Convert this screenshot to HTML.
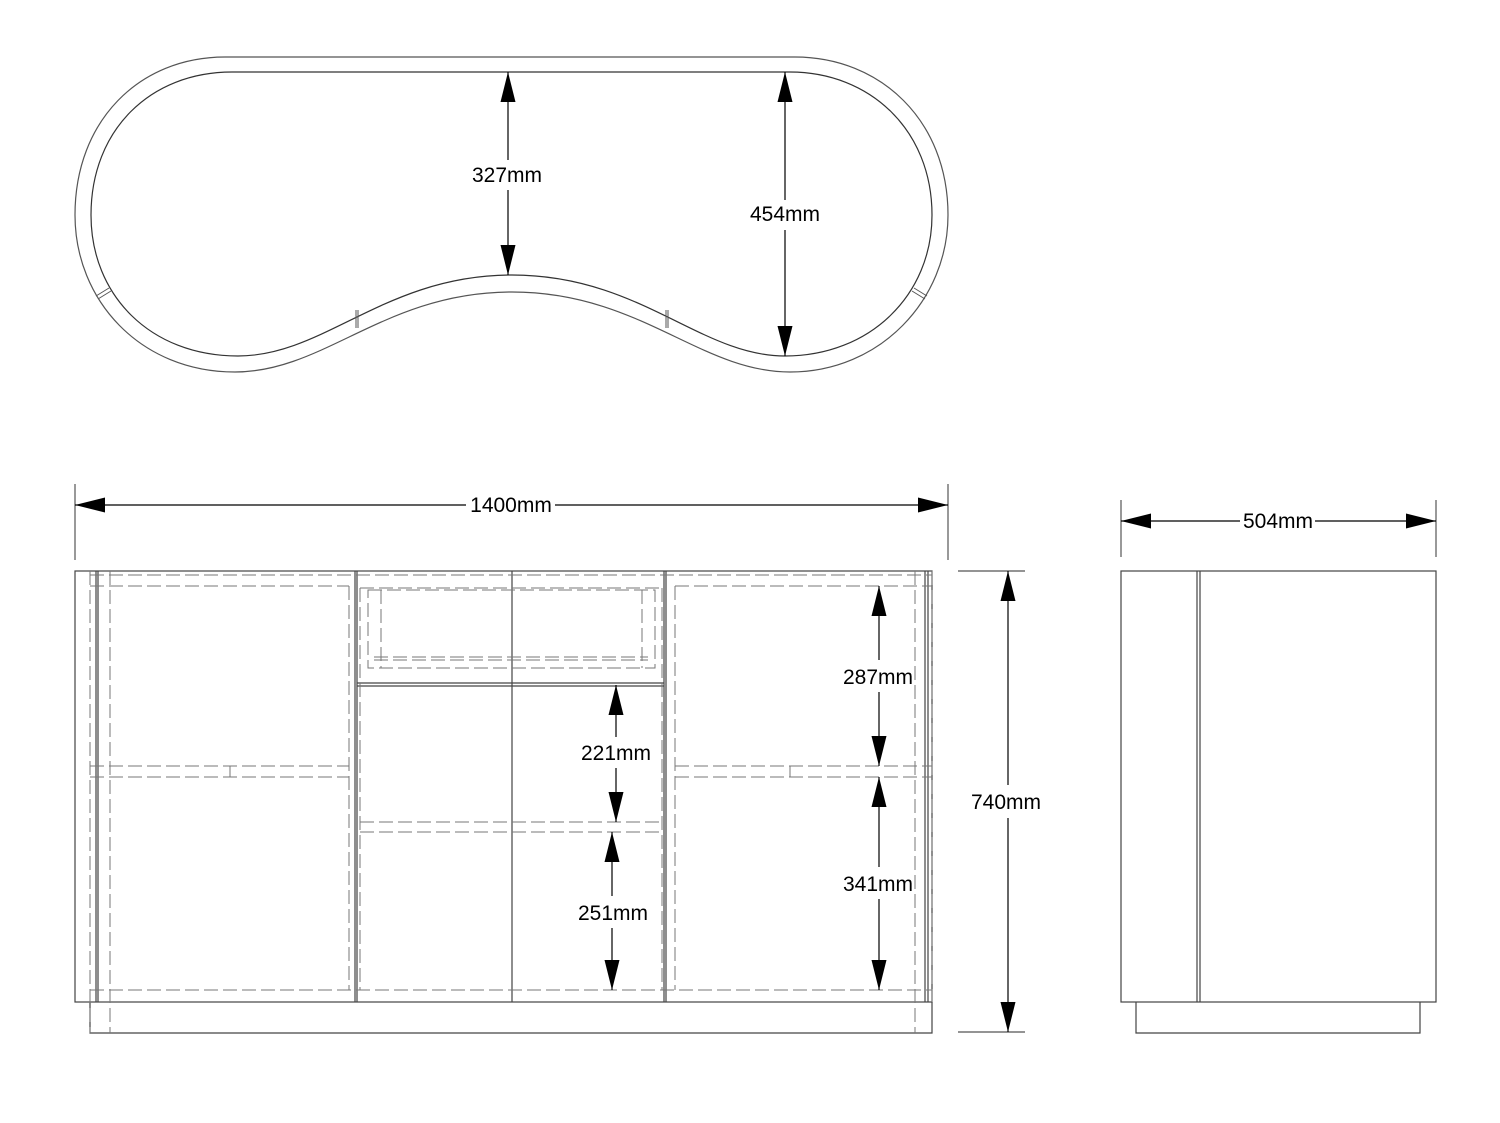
<!DOCTYPE html>
<html><head><meta charset="utf-8"><style>
html,body{margin:0;padding:0;background:#fff}
svg{display:block}
text{font-family:"Liberation Sans",sans-serif;font-size:21px;fill:#000}
</style></head><body>
<svg width="1500" height="1123" viewBox="0 0 1500 1123" xmlns="http://www.w3.org/2000/svg">
<defs>
<marker id="b" viewBox="0 0 20 10" refX="20" refY="5" markerWidth="30" markerHeight="15" markerUnits="userSpaceOnUse" orient="auto-start-reverse"><path d="M0,0 L20,5 L0,10 Z" fill="#000"/></marker>
</defs>
<g fill="none" stroke="#555" stroke-width="1.2">
<path d="M225 57 L795 57 C880 57 948 120 948 215 C948 300 880 372 790 372 C700 372 640 292 512 292 C385 292 325 372 235 372 C140 372 75 300 75 215 C75 120 140 57 225 57 Z"/>
<path d="M232 72 L790 72 C870 72 932 130 932 215 C932 295 870 356 785 356 C700 356 640 275 512 275 C385 275 325 356 238 356 C150 356 91 295 91 215 C91 130 150 72 232 72 Z" stroke="#333"/>
<path d="M96 296 L109 288 M98 299 L111 291 M356 310 L356 328 M358 310 L358 328 M666 310 L666 328 M668 310 L668 328 M914 288 L927 296 M912 291 L925 299" stroke-width="1"/>
</g>
<g stroke="#000" stroke-width="1.2" fill="none">
<line x1="508" y1="72" x2="508" y2="160" marker-start="url(#b)"/>
<line x1="508" y1="190" x2="508" y2="275" marker-end="url(#b)"/>
<line x1="785" y1="72" x2="785" y2="200" marker-start="url(#b)"/>
<line x1="785" y1="230" x2="785" y2="356" marker-end="url(#b)"/>
</g>
<text x="507" y="182" text-anchor="middle">327mm</text>
<text x="785" y="221" text-anchor="middle">454mm</text>

<g fill="none" stroke="#444" stroke-width="1.2">
<rect x="75" y="571" width="857" height="431"/>
<path d="M90 1002 L90 1033 L932 1033 L932 1002"/>
<line x1="96" y1="571" x2="96" y2="1002"/><line x1="98" y1="571" x2="98" y2="1002"/>
<line x1="355" y1="571" x2="355" y2="1002"/><line x1="357" y1="571" x2="357" y2="1002"/>
<line x1="664" y1="571" x2="664" y2="1002"/><line x1="666" y1="571" x2="666" y2="1002"/>
<line x1="925" y1="571" x2="925" y2="1002"/><line x1="928" y1="571" x2="928" y2="1002"/>
<line x1="512" y1="571" x2="512" y2="1002"/>
<line x1="357" y1="683" x2="664" y2="683"/><line x1="357" y1="686" x2="664" y2="686"/>
</g>
<g fill="none" stroke="#777" stroke-width="1" stroke-dasharray="14 5">
<line x1="90" y1="575" x2="932" y2="575"/>
<line x1="90" y1="586" x2="349" y2="586"/>
<line x1="360" y1="588" x2="662" y2="588"/>
<line x1="675" y1="586" x2="932" y2="586"/>
<line x1="90" y1="990" x2="932" y2="990"/>
<line x1="90" y1="571" x2="90" y2="1033"/>
<line x1="110" y1="571" x2="110" y2="1033"/>
<line x1="349" y1="586" x2="349" y2="990"/>
<line x1="360" y1="588" x2="360" y2="990"/>
<line x1="662" y1="588" x2="662" y2="990"/>
<line x1="675" y1="586" x2="675" y2="990"/>
<line x1="915" y1="571" x2="915" y2="1033"/>
<line x1="932" y1="571" x2="932" y2="1002"/>
<line x1="90" y1="766" x2="349" y2="766"/><line x1="90" y1="777" x2="349" y2="777"/>
<line x1="675" y1="766" x2="932" y2="766"/><line x1="675" y1="777" x2="932" y2="777"/>
<line x1="360" y1="822" x2="662" y2="822"/><line x1="360" y1="832" x2="662" y2="832"/>
<rect x="368" y="590" width="287" height="78"/>
<line x1="381" y1="590" x2="381" y2="668"/><line x1="642" y1="590" x2="642" y2="668"/>
<line x1="374" y1="657" x2="648" y2="657"/><line x1="374" y1="660" x2="648" y2="660"/>
</g>
<g stroke="#777" stroke-width="1"><line x1="230" y1="766" x2="230" y2="777"/><line x1="790" y1="766" x2="790" y2="777"/></g>

<g stroke="#000" stroke-width="1.2" fill="none">
<line x1="75" y1="484" x2="75" y2="560" stroke="#555"/>
<line x1="948" y1="484" x2="948" y2="560" stroke="#555"/>
<line x1="75" y1="505" x2="466" y2="505" marker-start="url(#b)"/>
<line x1="555" y1="505" x2="948" y2="505" marker-end="url(#b)"/>
<line x1="958" y1="571" x2="1025" y2="571" stroke="#555"/>
<line x1="958" y1="1032" x2="1025" y2="1032" stroke="#555"/>
<line x1="1008" y1="571" x2="1008" y2="785" marker-start="url(#b)"/>
<line x1="1008" y1="818" x2="1008" y2="1032" marker-end="url(#b)"/>
<line x1="879" y1="586" x2="879" y2="660" marker-start="url(#b)"/>
<line x1="879" y1="692" x2="879" y2="766" marker-end="url(#b)"/>
<line x1="879" y1="777" x2="879" y2="867" marker-start="url(#b)"/>
<line x1="879" y1="899" x2="879" y2="990" marker-end="url(#b)"/>
<line x1="616" y1="685" x2="616" y2="737" marker-start="url(#b)"/>
<line x1="616" y1="768" x2="616" y2="822" marker-end="url(#b)"/>
<line x1="612" y1="832" x2="612" y2="896" marker-start="url(#b)"/>
<line x1="612" y1="928" x2="612" y2="990" marker-end="url(#b)"/>
</g>
<text x="511" y="512" text-anchor="middle">1400mm</text>
<text x="1006" y="809" text-anchor="middle">740mm</text>
<text x="878" y="684" text-anchor="middle">287mm</text>
<text x="878" y="891" text-anchor="middle">341mm</text>
<text x="616" y="760" text-anchor="middle">221mm</text>
<text x="613" y="920" text-anchor="middle">251mm</text>

<g fill="none" stroke="#444" stroke-width="1.2">
<rect x="1121" y="571" width="315" height="431"/>
<line x1="1197" y1="571" x2="1197" y2="1002"/><line x1="1200" y1="571" x2="1200" y2="1002"/>
<path d="M1136 1002 L1136 1033 L1420 1033 L1420 1002"/>
<line x1="1121" y1="500" x2="1121" y2="557" stroke="#555"/>
<line x1="1436" y1="500" x2="1436" y2="557" stroke="#555"/>
</g>
<g stroke="#000" stroke-width="1.2">
<line x1="1121" y1="521" x2="1240" y2="521" marker-start="url(#b)"/>
<line x1="1315" y1="521" x2="1436" y2="521" marker-end="url(#b)"/>
</g>
<text x="1278" y="528" text-anchor="middle">504mm</text>
</svg>
</body></html>
